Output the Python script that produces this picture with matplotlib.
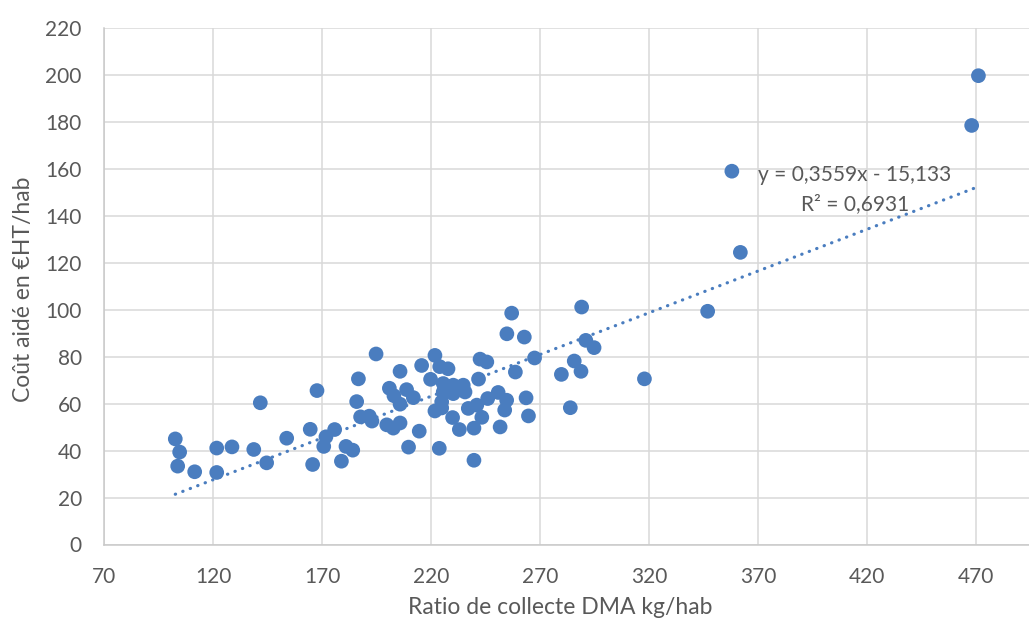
import numpy as np
import matplotlib
matplotlib.use("Agg")
import matplotlib.pyplot as plt

# ratio de collecte DMA (kg/hab) vs coût aidé (€HT/hab)
ratio_kg_hab = [
    102.7, 104.7, 103.8, 111.6, 121.7, 121.7, 128.7, 138.7, 141.7, 144.6,
    153.8, 164.6, 165.7, 167.7, 171.8, 170.8, 175.8, 178.9, 181.0, 184.1,
    186.7, 185.9, 187.7, 191.7, 192.9, 194.8, 199.7, 202.7, 205.8, 200.9,
    203.0, 205.8, 208.8, 205.8, 211.9, 209.7, 214.6, 215.7, 219.8, 221.8,
    224.0, 227.8, 221.8, 224.9, 223.8, 225.6, 230.2, 234.8, 225.6, 230.2,
    235.6, 224.9, 229.9, 233.0, 237.1, 239.7, 239.7, 241.0, 243.3, 241.8,
    242.5, 245.6, 246.0, 250.8, 254.7, 253.8, 251.7, 257.0, 254.8, 262.8,
    258.7, 263.6, 264.7, 267.5, 279.8, 285.7, 288.8, 283.9, 289.1, 291.0,
    294.8, 317.9, 346.9, 358.0, 361.9, 468.0, 471.1,
]
cout_eur_hab = [
    45.0, 39.4, 33.4, 31.0, 41.1, 30.7, 41.6, 40.5, 60.4, 34.8,
    45.3, 49.1, 34.1, 65.6, 45.9, 41.8, 49.0, 35.5, 41.8, 40.2,
    70.6, 60.9, 54.4, 54.7, 52.6, 81.2, 51.0, 49.6, 51.8, 66.6,
    63.4, 73.8, 66.0, 59.8, 62.6, 41.5, 48.3, 76.3, 70.4, 80.6,
    75.8, 74.9, 56.9, 58.2, 41.0, 68.6, 67.9, 67.9, 65.0, 64.3,
    65.0, 60.8, 54.1, 49.0, 58.0, 35.9, 49.6, 59.4, 54.2, 70.5,
    79.0, 77.8, 62.2, 64.8, 61.5, 57.3, 50.1, 98.6, 89.8, 88.4,
    73.5, 62.5, 54.8, 79.5, 72.5, 78.2, 73.8, 58.3, 101.2, 87.0,
    83.9, 70.6, 99.4, 159.1, 124.5, 178.6, 199.8,
]

# courbe de tendance linéaire affichée par Excel
trend_slope = 0.3559
trend_intercept = -15.133
trend_r2 = 0.6931

x_ticks = [70, 120, 170, 220, 270, 320, 370, 420, 470]
y_ticks = list(range(0, 221, 20))

blue = "#4a7dbf"
grey_text = "#595959"
grid_col = "#d9d9d9"

plt.rcParams["font.family"] = ["Lato", "DejaVu Sans"]

fig = plt.figure(figsize=(10.29, 6.26), dpi=100)
ax = fig.add_axes([104 / 1029, 81.5 / 626, 1 - 104 / 1029, 516.2 / 626])

ax.scatter(ratio_kg_hab, cout_eur_hab, s=112, color=blue, edgecolors="none", zorder=3)

xs = np.array([min(ratio_kg_hab), max(ratio_kg_hab)])
ax.plot(xs, trend_slope * xs + trend_intercept, color=blue, lw=2.3,
        linestyle=(0, (0.1, 2.4)), dash_capstyle="round", zorder=2)

eq = "y = {}x - {}".format(str(trend_slope).replace(".", ","),
                          str(-trend_intercept).replace(".", ","))
ax.text(414.5, 155.1, eq, ha="center", va="baseline", fontsize=15, color=grey_text, zorder=4)
ax.text(414.5, 142.6, "R² = " + str(trend_r2).replace(".", ","), ha="center",
        va="baseline", fontsize=15, color=grey_text, zorder=4)

ax.set_xlim(70, 494.3)
ax.set_ylim(0, 220)
ax.set_xticks(x_ticks)
ax.set_yticks(y_ticks)
ax.tick_params(length=0, labelsize=15, labelcolor=grey_text, pad=16)
ax.grid(True, color=grid_col, lw=1.1, zorder=0)
ax.set_axisbelow(True)
for side in ["top", "right"]:
    ax.spines[side].set_visible(False)
for side in ["left", "bottom"]:
    ax.spines[side].set_color("#c9c9c9")
    ax.spines[side].set_linewidth(1.1)

fig.text(560 / 1029, (626 - 614) / 626, "Ratio de collecte DMA kg/hab", ha="center",
         va="baseline", fontsize=16.5, color=grey_text)
fig.text(24 / 1029, (626 - 289) / 626, "Coût aidé en €HT/hab", ha="center", va="center",
         rotation=90, fontsize=16.5, color=grey_text)

fig.savefig("out.png", dpi=100)
